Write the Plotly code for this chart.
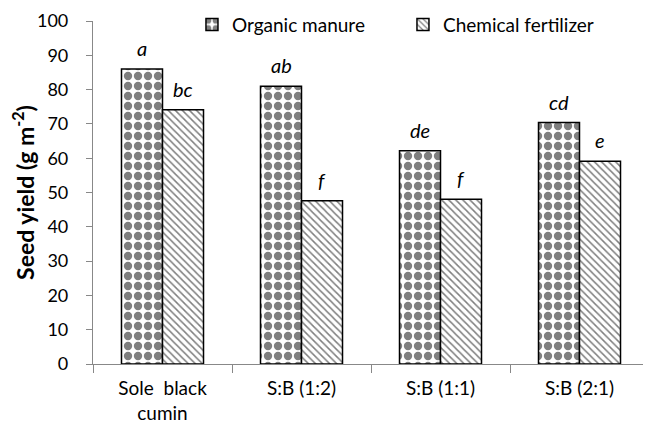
import plotly.graph_objects as go

categories = ["Sole  black<br>cumin", "S:B (1:2)", "S:B (1:1)", "S:B (2:1)"]
organic = [86, 81, 62.2, 70.4]
chemical = [74.1, 47.6, 48.0, 59.1]
organic_letters = ["a", "ab", "de", "cd"]
chemical_letters = ["bc", "f", "f", "e"]
y_ticks = [0, 10, 20, 30, 40, 50, 60, 70, 80, 90, 100]

FONT = "Lato"

fig = go.Figure()
fig.add_trace(go.Bar(
    x=categories, y=organic, name="Organic manure",
    marker=dict(color="white", line=dict(color="black", width=1.5),
                pattern=dict(shape=".", fgcolor="black", bgcolor="white",
                             size=10, solidity=0.55, fillmode="overlay")),
))
fig.add_trace(go.Bar(
    x=categories, y=chemical, name="Chemical fertilizer",
    marker=dict(color="white", line=dict(color="black", width=1.5),
                pattern=dict(shape="\\", fgcolor="black", bgcolor="white",
                             size=5, solidity=0.3, fillmode="overlay")),
))

annotations = []
for i, c in enumerate(categories):
    annotations.append(dict(x=c, y=organic[i], text=organic_letters[i], xref="x", yref="y",
                            showarrow=False, yanchor="bottom", yshift=7, xshift=-20.5,
                            font=dict(family=FONT, size=20, color="black", style="italic")))
    annotations.append(dict(x=c, y=chemical[i], text=chemical_letters[i], xref="x", yref="y",
                            showarrow=False, yanchor="bottom", yshift=7, xshift=20.5,
                            font=dict(family=FONT, size=20, color="black", style="italic")))

fig.update_layout(
    width=651, height=427,
    margin=dict(l=85, r=10, t=13, b=71, autoexpand=False),
    paper_bgcolor="white", plot_bgcolor="white",
    barmode="group", bargap=0.41, bargroupgap=0,
    font=dict(family=FONT, size=19, color="black"),
    showlegend=True,
    legend=dict(orientation="h", x=0.178, xanchor="left", y=1.045, yanchor="top",
                bgcolor="rgba(0,0,0,0)", font=dict(size=19),
                entrywidth=166, entrywidthmode="pixels", itemwidth=30),
    annotations=annotations,
)
fig.update_xaxes(showline=True, linecolor="#888888", linewidth=1.2,
                 ticks="outside", tickson="boundaries", ticklen=8, tickcolor="#888888",
                 ticklabelstandoff=7,
                 tickfont=dict(size=19), showgrid=False)
fig.update_yaxes(range=[0, 100], tickvals=y_ticks, showline=True, linecolor="#888888",
                 linewidth=1.2, ticks="outside", ticklen=6, tickcolor="#888888",
                 ticklabelstandoff=14,
                 showgrid=False, zeroline=False, tickfont=dict(size=18),
                 title=dict(text="<b>Seed yield (g m<sup>-2</sup>)</b>", font=dict(size=23), standoff=0))

fig.write_html("out.html")
